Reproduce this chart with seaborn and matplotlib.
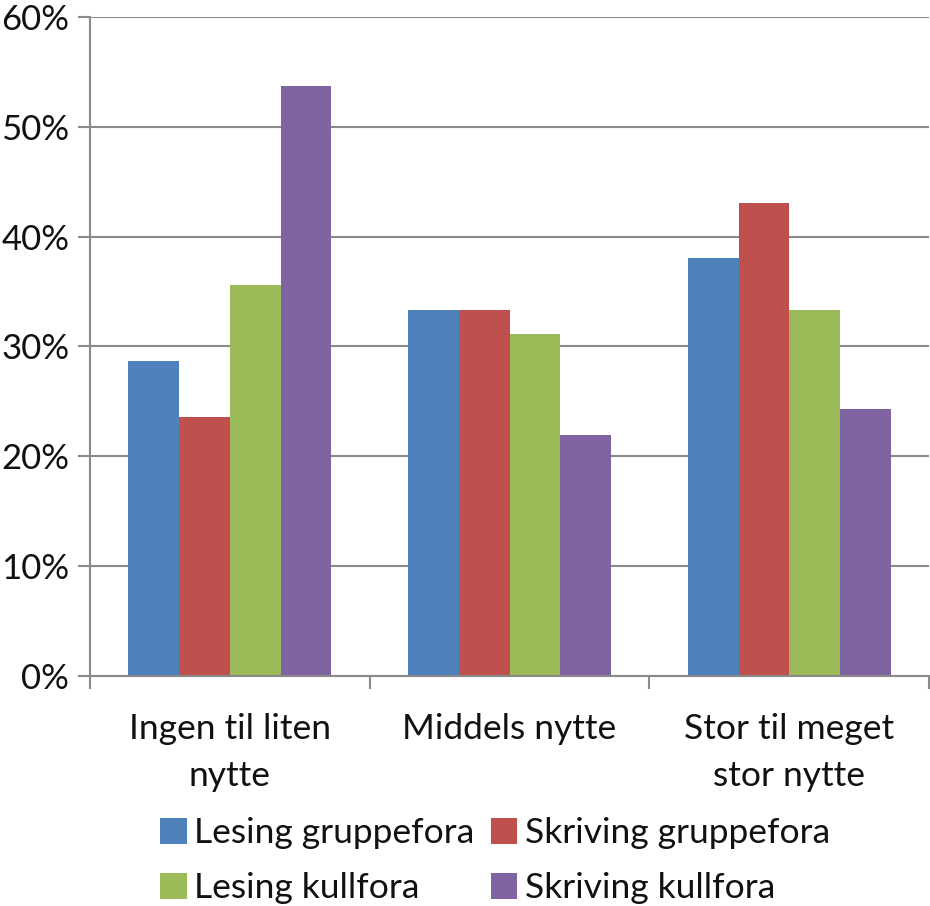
import matplotlib
matplotlib.use("Agg")
import matplotlib.pyplot as plt
import seaborn as sns
import pandas as pd
from matplotlib.patches import Patch
from matplotlib.ticker import FixedLocator, PercentFormatter

categories = ["Ingen til liten\nnytte", "Middels nytte", "Stor til meget\nstor nytte"]
series = ["Lesing gruppefora", "Skriving gruppefora", "Lesing kullfora", "Skriving kullfora"]
lesing_gruppefora = [28.7, 33.3, 38.1]
skriving_gruppefora = [23.6, 33.3, 43.1]
lesing_kullfora = [35.6, 31.1, 33.3]
skriving_kullfora = [53.7, 21.9, 24.3]
colors = ["#4F81BD", "#C0504D", "#9BBB59", "#8064A2"]
yticks = [0, 10, 20, 30, 40, 50, 60]

values = [lesing_gruppefora, skriving_gruppefora, lesing_kullfora, skriving_kullfora]
rows = []
for s, vals in zip(series, values):
    for c, v in zip(categories, vals):
        rows.append({"kategori": c, "serie": s, "verdi": v})
df = pd.DataFrame(rows)

sns.set_theme(style="white")
plt.rcParams["font.family"] = ["Lato", "DejaVu Sans"]

fig = plt.figure(figsize=(9.30, 9.06), dpi=100)
ax = fig.add_axes([0.0968, 0.2539, 0.9022, 0.7273])

sns.barplot(data=df, x="kategori", y="verdi", hue="serie", order=categories,
            hue_order=series, palette=colors, width=0.725, gap=0, ax=ax,
            saturation=1, errorbar=None, legend=False, linewidth=0)

grid_col = "#8a8a8a"
ax.set_ylim(0, 60)
ax.set_xlim(-0.5, 2.5)
ax.set_yticks(yticks)
ax.yaxis.set_major_formatter(PercentFormatter(decimals=0))
ax.yaxis.grid(True, color=grid_col, linewidth=1.5)
ax.set_axisbelow(True)
for side in ["top", "right"]:
    ax.spines[side].set_visible(False)
for side in ["left", "bottom"]:
    ax.spines[side].set_color(grid_col)
    ax.spines[side].set_linewidth(1.5)

ax.set_xticks(range(len(categories)))
ax.set_xticklabels(categories, fontsize=25.5, color="#111111", linespacing=1.55)
ax.xaxis.set_minor_locator(FixedLocator([-0.5, 0.5, 1.5, 2.5]))
ax.tick_params(axis="x", which="major", length=0, pad=27)
ax.tick_params(axis="x", which="minor", length=9, width=1.5, color=grid_col, bottom=True)
ax.tick_params(axis="y", length=9, width=1.5, color=grid_col, left=True, labelsize=25,
               labelcolor="#111111", pad=6)
ax.set_xlabel("")
ax.set_ylabel("")

order = [0, 2, 1, 3]
handles = [Patch(facecolor=colors[i], edgecolor="none") for i in order]
labels = [series[i] for i in order]
fig.legend(handles, labels, loc="upper left", bbox_to_anchor=(0.172, 0.098),
           ncol=2, frameon=False, fontsize=25.5, handlelength=0.75, handleheight=0.75,
           handletextpad=0.22, columnspacing=0.45, labelspacing=0.65,
           labelcolor="#111111", borderpad=0, borderaxespad=0)

fig.savefig("out.png", dpi=100)
